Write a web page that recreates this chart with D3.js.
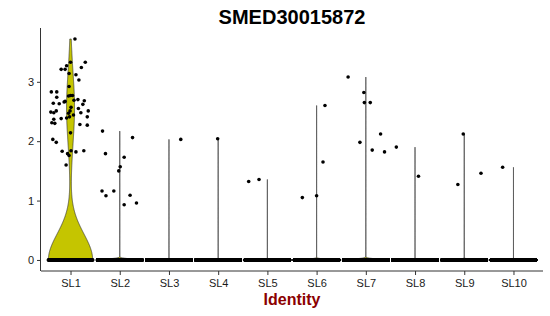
<!DOCTYPE html>
<html>
<head>
<meta charset="utf-8">
<script src="https://cdn.jsdelivr.net/npm/d3@7"></script>
<style>
  body { margin: 0; background: #fff; }
  svg { display: block; font-family: "Liberation Sans", Arial, sans-serif; }
</style>
</head>
<body>
<svg id="chart" width="550" height="316"></svg>
<script>
'use strict'

const title = 'SMED30015872'
const xLabel = 'Identity'
const categories = ['SL1', 'SL2', 'SL3', 'SL4', 'SL5', 'SL6', 'SL7', 'SL8', 'SL9', 'SL10']
const yTicks = [0, 1, 2, 3]

// cells with zero expression in each identity
const zeroCounts = [208, 5000, 4000, 4000, 4000, 4000, 8000, 4000, 4000, 4000]

// expressing cells: [value, jitter offset in band units]
const sl1 = [
  [3.72, 0.09], [3.33, 0.30], [3.33, 0.00], [3.27, -0.08], [3.21, -0.19], [3.21, -0.11],
  [3.24, 0.22], [3.14, -0.03], [3.12, 0.11], [3.03, 0.17], [2.92, -0.03], [2.83, -0.39],
  [2.83, -0.28], [2.74, -0.28], [2.77, 0.00], [2.76, -0.04], [2.77, 0.04], [2.68, 0.28],
  [2.70, 0.15], [2.69, 0.07], [2.67, -0.11], [2.66, -0.13], [2.64, -0.35], [2.63, -0.23],
  [2.62, 0.25], [2.57, 0.01], [2.55, 0.16], [2.51, 0.36], [2.48, 0.21], [2.49, -0.40],
  [2.48, -0.34], [2.51, -0.29], [2.51, -0.01], [2.47, -0.04], [2.44, 0.06], [2.41, -0.02],
  [2.39, -0.08], [2.38, -0.19], [2.41, 0.34], [2.37, -0.34], [2.31, -0.38], [2.30, -0.32],
  [2.28, 0.19], [2.27, 0.34], [2.03, -0.36], [1.98, -0.29], [2.14, 0.00], [1.84, 0.27],
  [1.82, 0.11], [1.84, 0.01], [1.83, -0.17], [1.79, -0.06], [1.76, -0.03], [1.60, -0.09]
]
const sl2 = [
  [2.17, -0.35], [2.06, 0.26], [1.79, -0.29], [1.73, 0.09], [1.57, 0.01], [1.50, -0.02],
  [1.16, -0.36], [1.16, -0.12], [1.08, -0.28], [1.09, 0.21], [0.93, 0.09], [0.96, 0.34]
]
const sl3 = [[2.03, 0.24]]
const sl4 = [[2.04, -0.01]]
const sl5 = [[1.32, -0.38], [1.355, -0.17]]
const sl6 = [[1.05, -0.29], [1.08, 0.00], [1.65, 0.13], [2.60, 0.17]]
const sl7 = [
  [3.08, -0.36], [2.82, -0.04], [2.65, -0.03], [2.65, 0.09],
  [2.12, 0.30], [1.98, -0.12], [1.85, 0.13], [1.82, 0.38]
]
const sl8 = [[1.90, -0.38], [1.41, 0.07]]
const sl9 = [[2.12, -0.02], [1.27, -0.13], [1.46, 0.34]]
const sl10 = [[1.56, -0.22]]
const expressing = [sl1, sl2, sl3, sl4, sl5, sl6, sl7, sl8, sl9, sl10]

const fillColor = '#c5c500'
const adjust = 1.4

const svg = d3.select('#chart')
const width = +svg.attr('width')
const height = +svg.attr('height')
const margin = { top: 28, right: 7, bottom: 45, left: 41 }

// build the per-identity cell tables
const groups = categories.map((name, i) => {
  const cells = []
  const n0 = zeroCounts[i]
  for (let k = 0; k < n0; k++) {
    cells.push({ value: 0, jitter: n0 > 1 ? -0.45 + 0.9 * k / (n0 - 1) : 0 })
  }
  expressing[i].forEach(d => cells.push({ value: d[0], jitter: d[1] }))
  return { name: name, cells: cells }
})

const allValues = groups.flatMap(g => g.cells.map(c => c.value))
const yMax = d3.max(allValues)
const yMin = d3.min(allValues)
const pad = (yMax - yMin) * 0.05

const x = d3.scalePoint()
  .domain(categories)
  .range([margin.left, width - margin.right])
  .padding(0.6)
const step = x.step()

const y = d3.scaleLinear()
  .domain([yMin - pad, yMax + pad])
  .range([height - margin.bottom, margin.top])

// R's bw.nrd0
function bwNrd0 (values) {
  const sorted = values.slice().sort(d3.ascending)
  const sd = d3.deviation(sorted)
  const iqr = d3.quantileSorted(sorted, 0.75) - d3.quantileSorted(sorted, 0.25)
  let lo = Math.min(sd, iqr / 1.34)
  if (!(lo > 0)) lo = sd || Math.abs(sorted[0]) || 1
  return 0.9 * lo * Math.pow(sorted.length, -0.2)
}

function density (values, bw, lo, hi) {
  const counts = d3.rollup(values, v => v.length, v => v)
  const n = values.length
  const pts = []
  for (let k = 0; k < 512; k++) {
    const t = lo + (hi - lo) * k / 511
    let s = 0
    counts.forEach((c, v) => {
      const z = (t - v) / bw
      s += c * Math.exp(-0.5 * z * z)
    })
    pts.push({ y: t, d: s / (n * bw * Math.sqrt(2 * Math.PI)) })
  }
  return pts
}

groups.forEach(g => {
  const vals = g.cells.map(c => c.value)
  const bw = bwNrd0(vals) * adjust
  g.dens = density(vals, bw, d3.min(vals), d3.max(vals))
  const dMax = d3.max(g.dens, p => p.d)
  g.dens.forEach(p => { p.w = p.d / dMax * 0.45 * step })
})

// violins
const area = d3.area()
  .y(p => y(p.y))

svg.append('g')
  .selectAll('path')
  .data(groups)
  .join('path')
  .attr('d', g => area.x0(p => x(g.name) - p.w).x1(p => x(g.name) + p.w)(g.dens) + 'Z')
  .attr('fill', fillColor)
  .attr('stroke', '#333333')
  .attr('stroke-width', 0.7)

// jittered cells
svg.append('g')
  .selectAll('g')
  .data(groups)
  .join('g')
  .selectAll('circle')
  .data(g => g.cells.map(c => ({ name: g.name, value: c.value, jitter: c.jitter })))
  .join('circle')
  .attr('cx', d => x(d.name) + d.jitter * step)
  .attr('cy', d => y(d.value))
  .attr('r', 1.8)
  .attr('fill', '#000')

// axes
const yAxis = svg.append('g')
  .attr('transform', `translate(${margin.left},0)`)
  .call(d3.axisLeft(y).tickValues(yTicks).tickFormat(d3.format('d')).tickSize(4).tickPadding(3))
const xAxis = svg.append('g')
  .attr('transform', `translate(0,${height - margin.bottom})`)
  .call(d3.axisBottom(x).tickSize(4).tickPadding(4))

yAxis.select('.domain').attr('d', `M-0.5,${y.range()[0]}V${y.range()[1]}`)
xAxis.select('.domain').attr('d', `M${margin.left},0H${width - margin.right}`)

svg.selectAll('.domain').attr('stroke', '#333333').attr('stroke-width', 1)
svg.selectAll('.tick line').attr('stroke', '#333333')
svg.selectAll('.tick text')
  .attr('font-family', '"Liberation Sans", Arial, sans-serif')
  .attr('font-size', 11)
  .attr('fill', '#1a1a1a')

svg.append('text')
  .attr('x', (margin.left + width - margin.right) / 2)
  .attr('y', 24)
  .attr('text-anchor', 'middle')
  .attr('font-size', 20)
  .attr('font-weight', 'bold')
  .attr('fill', '#000')
  .text(title)

svg.append('text')
  .attr('x', (margin.left + width - margin.right) / 2)
  .attr('y', 305)
  .attr('text-anchor', 'middle')
  .attr('font-size', 16)
  .attr('font-weight', 'bold')
  .attr('fill', '#8b0000')
  .text(xLabel)
</script>
</body>
</html>
